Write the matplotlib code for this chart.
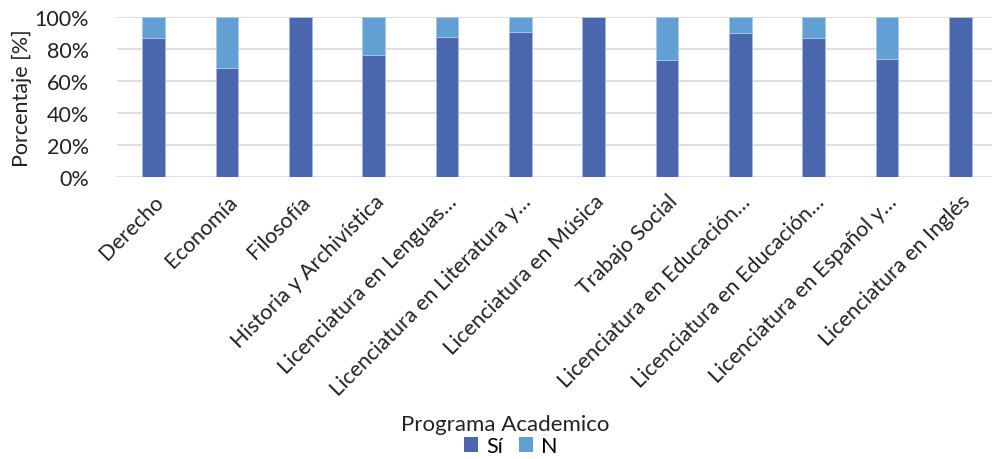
import matplotlib
matplotlib.use("Agg")
import matplotlib.pyplot as plt
import numpy as np
from matplotlib.patches import Patch

categories = ["Derecho", "Economía", "Filosofía", "Historia y Archivística",
              "Licenciatura en Lenguas…", "Licenciatura en Literatura y…",
              "Licenciatura en Música", "Trabajo Social",
              "Licenciatura en Educación…", "Licenciatura en Educación…",
              "Licenciatura en Español y…", "Licenciatura en Inglés"]
si = [86.7, 68.1, 100, 76.4, 87.3, 90.8, 100, 72.9, 89.8, 87.1, 73.5, 100]
no = [100 - v for v in si]
yticks = [0, 20, 40, 60, 80, 100]

plt.rcParams['font.family'] = ['Lato', 'DejaVu Sans']
c_si = "#4A66AC"
c_no = "#629FD2"

fig = plt.figure(figsize=(9.92, 4.6), dpi=100)
ax = fig.add_axes([117/992, 1 - 178/460, (997 - 117)/992, 160/460])
x = np.arange(len(categories))
w = 0.31
ax.bar(x, si, width=w, color=c_si, edgecolor="#A9B8DA", linewidth=0.6, zorder=3, label="Sí")
ax.bar(x, no, width=w, bottom=si, color=c_no, edgecolor="#A9CBE8", linewidth=0.6, zorder=3, label="N")
ax.set_xlim(-0.5, len(categories) - 0.5)
ax.set_ylim(0, 100)
ax.set_yticks(yticks)
ax.set_yticklabels([f"{v}%" for v in yticks], fontsize=15.5, color="#222222")
ax.yaxis.grid(True, color="#D9D9D9", linewidth=1.2, zorder=0)
for s in ax.spines.values():
    s.set_visible(False)
ax.tick_params(axis='both', length=0)
ax.tick_params(axis='y', pad=20)
ax.set_xticks(x)
ax.set_xticklabels(categories, rotation=45, ha='right', rotation_mode='anchor',
                   fontsize=15.5, color="#222222")
ax.tick_params(axis='x', pad=10)
ax.set_ylabel("Porcentaje [%]", fontsize=15.5, color="#222222", labelpad=2)

fig.text(0.5095, 1 - 425/460, "Programa Academico", ha='center', va='center',
         fontsize=16, color="#222222")
handles = [Patch(facecolor=c_si), Patch(facecolor=c_no)]
fig.legend(handles, ["Sí", "N"], loc='center', bbox_to_anchor=(0.515, 1 - 447/460),
           ncol=2, frameon=False, fontsize=15.5, handlelength=0.65, handleheight=0.65,
           handletextpad=0.4, columnspacing=0.7, borderaxespad=0, borderpad=0)
fig.savefig("out.png", dpi=100)
